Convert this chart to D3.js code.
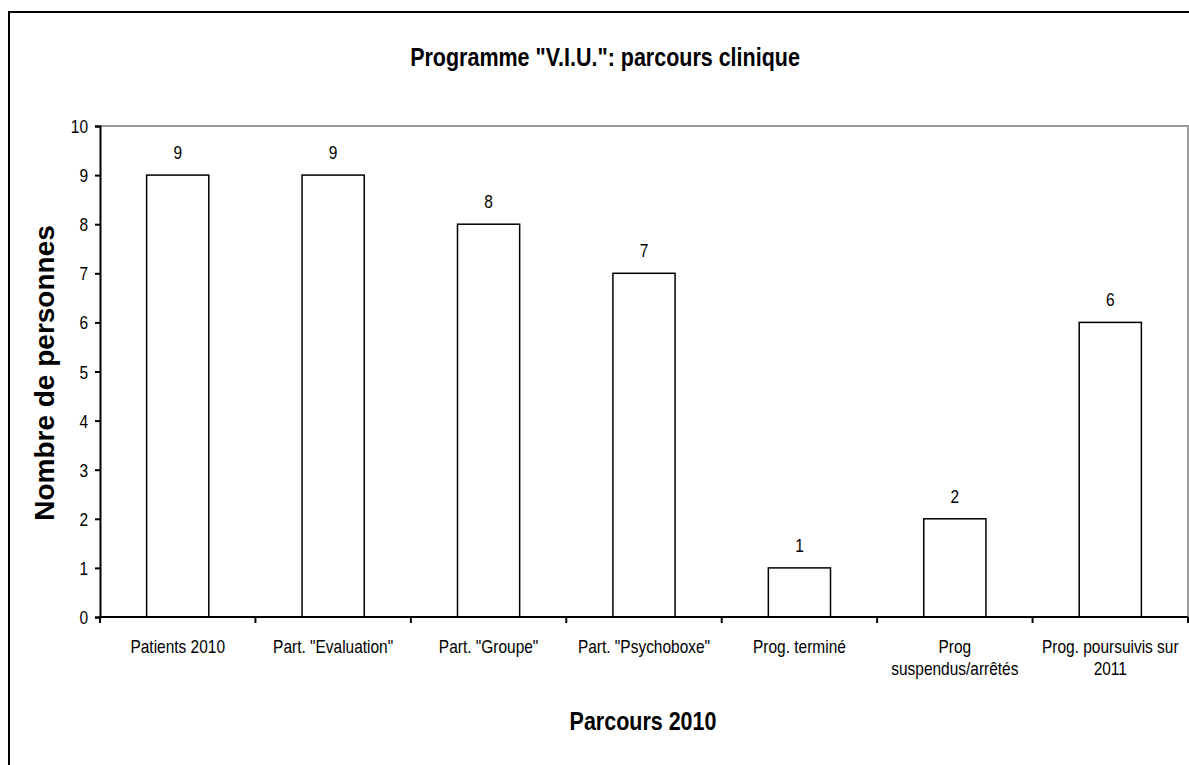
<!DOCTYPE html>
<html>
<head>
<meta charset="utf-8">
<script src="https://cdn.jsdelivr.net/npm/d3@7"></script>
<style>
  body { margin: 0; background: #fff; }
  text { font-family: "Liberation Sans", Arial, sans-serif; fill: #000; }
</style>
</head>
<body>
<div id="chart"></div>
<script>
var categories = [
    ["Patients 2010"],
    ["Part. \"Evaluation\""],
    ["Part. \"Groupe\""],
    ["Part. \"Psychoboxe\""],
    ["Prog. terminé"],
    ["Prog", "suspendus/arrêtés"],
    ["Prog. poursuivis sur", "2011"]
];
var values = [9, 9, 8, 7, 1, 2, 6];
var yTicks = [0, 1, 2, 3, 4, 5, 6, 7, 8, 9, 10];

var width = 1189, height = 765;
var margin = {top: 126, bottom: 148, left: 100, right: 1};
var condense = 0.86;

var svg = d3.select("#chart")
    .append("svg")
    .attr("width", width)
    .attr("height", height);

// outer frame (runs off the page right and bottom)
svg.append("rect")
    .attr("x", 9).attr("y", 12)
    .attr("width", 1200).attr("height", 800)
    .attr("fill", "none")
    .attr("stroke", "#000")
    .attr("stroke-width", 2);

var keys = categories.map(function (d, i) { return i; });

var xBand = d3.scaleBand()
    .domain(keys)
    .range([margin.left, width - margin.right]);

var xBar = d3.scaleBand()
    .domain(keys)
    .range([margin.left, width - margin.right])
    .paddingInner(0.6)
    .paddingOuter(0.3);

var yScale = d3.scaleLinear()
    .domain([0, 10])
    .range([height - margin.bottom, margin.top]);

// condensed text helper
function label(g, x, y, str, size, weight, anchor) {
    return g.append("text")
        .attr("transform", "translate(" + x + "," + y + ") scale(" + condense + ",1)")
        .attr("text-anchor", anchor || "middle")
        .style("font-size", size + "px")
        .style("font-weight", weight || "normal")
        .text(str);
}

// plot area frame (grey top and right)
svg.append("path")
    .attr("d", "M" + margin.left + "," + yScale(10) + "H" + (width - margin.right) + "V" + yScale(0))
    .attr("fill", "none")
    .attr("stroke", "#9a9a9a")
    .attr("stroke-width", 2);

// bars
svg.selectAll(".bar")
    .data(values)
    .enter()
    .append("rect")
    .attr("class", "bar")
    .attr("x", function (d, i) { return xBar(i); })
    .attr("y", function (d) { return yScale(d); })
    .attr("width", xBar.bandwidth())
    .attr("height", function (d) { return yScale(0) - yScale(d); })
    .attr("fill", "#fff")
    .attr("stroke", "#000")
    .attr("stroke-width", 1.5);

// value labels
values.forEach(function (d, i) {
    label(svg, xBar(i) + xBar.bandwidth() / 2, yScale(d) - 16, d, 18);
});

// y axis
var yAxis = svg.append("g")
    .attr("transform", "translate(" + margin.left + ",0)")
    .call(d3.axisLeft(yScale).tickValues(yTicks).tickSize(5).tickFormat(""));
yAxis.select(".domain").attr("stroke-width", 2);
yAxis.selectAll(".tick line").attr("stroke-width", 2);
yTicks.forEach(function (t) {
    label(svg, margin.left - 12, yScale(t) + 7, t, 18, "normal", "end");
});

// x axis with ticks at category boundaries
var xTicks = keys.map(function (k) { return xBand(k); }).concat([width - margin.right]);
svg.append("line")
    .attr("x1", margin.left).attr("x2", width - margin.right)
    .attr("y1", yScale(0)).attr("y2", yScale(0))
    .attr("stroke", "#000").attr("stroke-width", 2);
svg.selectAll(".xtick")
    .data(xTicks)
    .enter()
    .append("line")
    .attr("class", "xtick")
    .attr("x1", function (d) { return d; }).attr("x2", function (d) { return d; })
    .attr("y1", yScale(0)).attr("y2", yScale(0) + 6)
    .attr("stroke", "#000").attr("stroke-width", 2);

categories.forEach(function (lines, i) {
    var cx = xBand(i) + xBand.bandwidth() / 2;
    lines.forEach(function (s, j) {
        label(svg, cx, 653 + j * 22, s, 18);
    });
});

// titles
label(svg, 605, 66, "Programme \"V.I.U.\": parcours clinique", 25, "bold");
label(svg, 643, 730, "Parcours 2010", 25, "bold");
svg.append("text")
    .attr("transform", "translate(54,373) rotate(-90)")
    .attr("text-anchor", "middle")
    .style("font-size", "28px")
    .style("font-weight", "bold")
    .text("Nombre de personnes");
</script>
</body>
</html>
